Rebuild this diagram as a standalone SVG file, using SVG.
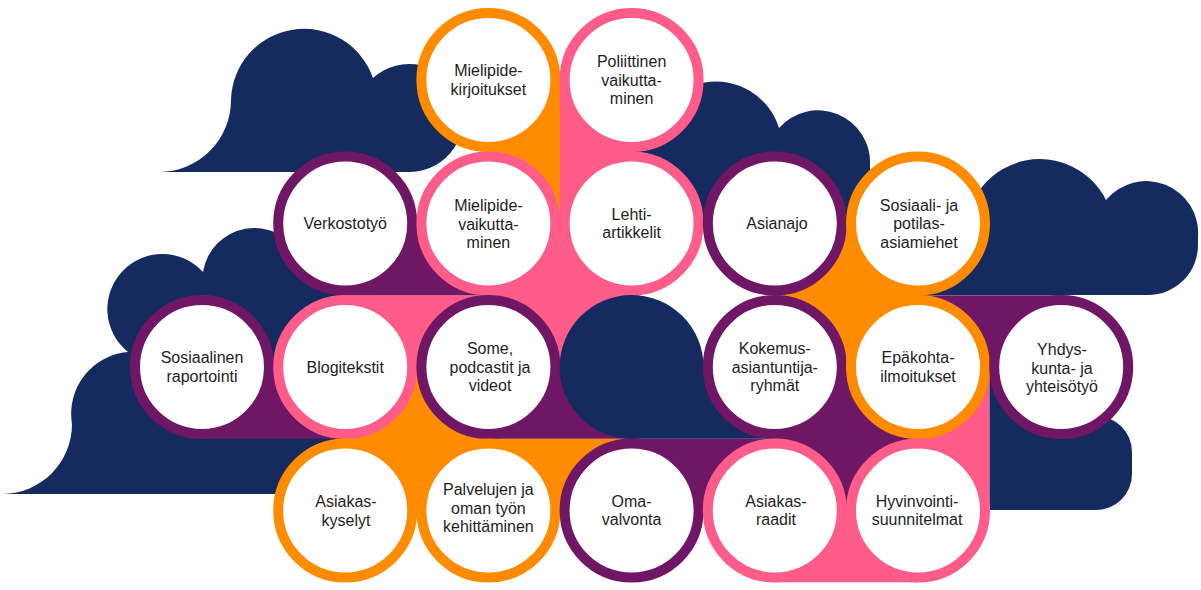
<svg xmlns="http://www.w3.org/2000/svg" width="1201" height="590" viewBox="0 0 1201 590">
  <style>
    .navy { fill: #152a5e; }
    .orange { fill: #ff8c00; }
    .pink { fill: #ff5c8a; }
    .purple { fill: #6f1764; }
    .ring { fill: #ffffff; stroke-width: 10; }
    .r-orange { stroke: #ff8c00; }
    .r-pink { stroke: #ff5c8a; }
    .r-purple { stroke: #6f1764; }
    .lbl { font-family: "Liberation Sans", Arial, sans-serif; font-size: 16px; fill: #1e1e1e; text-anchor: middle; }
  </style>
  <rect width="1201" height="590" fill="#ffffff"/>
  <g id="clouds" class="navy">
    <path d="M160,172 A72,72 0 0 0 231,100 A73,73 0 0 1 373,78 A54,54 0 1 1 410,172 Z"/>
    <path d="M634,224 L634,150 L650,150 A66,66 0 0 1 779,128 A52,52 0 0 1 870,165 L870,224 Z"/>
    <path d="M918,295 L918,228 L966,228 A74,74 0 0 1 1106,200 A52,52 0 0 1 1198,237 L1198,245 A50,50 0 0 1 1148,295 Z"/>
    <path d="M3,494 A70,70 0 0 0 72,424 A62,62 0 0 1 128,352 A55,55 0 1 1 203,272 A52,52 0 0 1 300,255 L345,222 L345,494 Z"/>
  </g>
  <g id="connectors">
    <rect class="orange" x="488.4" y="80" width="71.6" height="143.5"/>
    <rect class="orange" x="774.8" y="223.5" width="143.2" height="143.5"/>
    <rect class="orange" x="345.2" y="367" width="143.2" height="143.5"/>
    <rect class="orange" x="488.4" y="438.75" width="143.2" height="71.75"/>
    <rect class="pink" x="560" y="80" width="71.6" height="143.5"/>
    <rect class="pink" x="488.4" y="223.5" width="143.2" height="143.5"/>
    <rect class="pink" x="345.2" y="295.25" width="143.2" height="71.75"/>
    <rect class="pink" x="918" y="367" width="71.6" height="143.5"/>
    <rect class="pink" x="774.8" y="510.5" width="143.2" height="71.75"/>
    <rect class="purple" x="345.2" y="223.5" width="143.2" height="71.75"/>
    <rect class="purple" x="202" y="367" width="143.2" height="71.75"/>
    <rect class="purple" x="488.4" y="367" width="143.2" height="71.75"/>
    <rect class="purple" x="631.6" y="438.75" width="143.2" height="71.75"/>
    <rect class="purple" x="774.8" y="367" width="143.2" height="143.5"/>
    <rect class="purple" x="918" y="295.25" width="143.2" height="71.75"/>
    <rect class="navy" x="631.6" y="367" width="143.2" height="71.75"/>
    <path class="navy" d="M989.6,367 L1061,367 L1096,416 A36,36 0 0 1 1132,452 L1132,474 A36,36 0 0 1 1096,510 L989.6,510 Z"/>
  </g>
  <g id="n-mielipidekirjoitukset">
    <circle class="ring r-orange" cx="488.4" cy="80" r="67"/>
    <text class="lbl"><tspan x="488.4" y="76">Mielipide-</tspan><tspan x="488.4" y="94.5">kirjoitukset</tspan></text>
  </g>
  <g id="n-poliittinen">
    <circle class="ring r-pink" cx="631.6" cy="80" r="67"/>
    <text class="lbl"><tspan x="631.6" y="67">Poliittinen</tspan><tspan x="631.6" y="85.5">vaikutta-</tspan><tspan x="631.6" y="104">minen</tspan></text>
  </g>
  <g id="n-verkostotyo">
    <circle class="ring r-purple" cx="345.2" cy="223.5" r="67"/>
    <text class="lbl"><tspan x="345.2" y="229">Verkostotyö</tspan></text>
  </g>
  <g id="n-mielipidevaikuttaminen">
    <circle class="ring r-pink" cx="488.4" cy="223.5" r="67"/>
    <text class="lbl"><tspan x="488.4" y="211">Mielipide-</tspan><tspan x="488.4" y="229.5">vaikutta-</tspan><tspan x="488.4" y="248">minen</tspan></text>
  </g>
  <g id="n-lehtiartikkelit">
    <circle class="ring r-pink" cx="631.6" cy="223.5" r="67"/>
    <text class="lbl"><tspan x="631.6" y="219.5">Lehti-</tspan><tspan x="631.6" y="238">artikkelit</tspan></text>
  </g>
  <g id="n-asianajo">
    <circle class="ring r-purple" cx="774.8" cy="223.5" r="67"/>
    <text class="lbl"><tspan x="777" y="229">Asianajo</tspan></text>
  </g>
  <g id="n-asiamiehet">
    <circle class="ring r-orange" cx="918" cy="223.5" r="67"/>
    <text class="lbl"><tspan x="919" y="210.5">Sosiaali- ja</tspan><tspan x="919" y="229">potilas-</tspan><tspan x="919" y="247.5">asiamiehet</tspan></text>
  </g>
  <g id="n-sosiaalinenraportointi">
    <circle class="ring r-purple" cx="202" cy="367" r="67"/>
    <text class="lbl"><tspan x="202" y="363">Sosiaalinen</tspan><tspan x="202" y="381.5">raportointi</tspan></text>
  </g>
  <g id="n-blogitekstit">
    <circle class="ring r-pink" cx="345.2" cy="367" r="67"/>
    <text class="lbl"><tspan x="345.2" y="372.5">Blogitekstit</tspan></text>
  </g>
  <g id="n-some">
    <circle class="ring r-purple" cx="488.4" cy="367" r="67"/>
    <text class="lbl"><tspan x="490" y="354">Some,</tspan><tspan x="490" y="372.5">podcastit ja</tspan><tspan x="490" y="391">videot</tspan></text>
  </g>
  <g id="n-tyhja">
    <circle class="navy" cx="631.6" cy="367" r="72"/>
  </g>
  <g id="n-kokemus">
    <circle class="ring r-purple" cx="774.8" cy="367" r="67"/>
    <text class="lbl"><tspan x="774.8" y="354">Kokemus-</tspan><tspan x="774.8" y="372.5">asiantuntija-</tspan><tspan x="774.8" y="391">ryhmät</tspan></text>
  </g>
  <g id="n-epakohta">
    <circle class="ring r-orange" cx="918" cy="367" r="67"/>
    <text class="lbl"><tspan x="918" y="363">Epäkohta-</tspan><tspan x="918" y="381.5">ilmoitukset</tspan></text>
  </g>
  <g id="n-yhdyskunta">
    <circle class="ring r-purple" cx="1061.2" cy="367" r="67"/>
    <text class="lbl"><tspan x="1062" y="355">Yhdys-</tspan><tspan x="1062" y="373.5">kunta- ja</tspan><tspan x="1062" y="392">yhteisötyö</tspan></text>
  </g>
  <g id="n-asiakaskyselyt">
    <circle class="ring r-orange" cx="345.2" cy="510.5" r="67"/>
    <text class="lbl"><tspan x="346" y="507">Asiakas-</tspan><tspan x="346" y="525.5">kyselyt</tspan></text>
  </g>
  <g id="n-palvelujen">
    <circle class="ring r-orange" cx="488.4" cy="510.5" r="67"/>
    <text class="lbl"><tspan x="488.4" y="495">Palvelujen ja</tspan><tspan x="488.4" y="513.5">oman työn</tspan><tspan x="488.4" y="532">kehittäminen</tspan></text>
  </g>
  <g id="n-omavalvonta">
    <circle class="ring r-purple" cx="631.6" cy="510.5" r="67"/>
    <text class="lbl"><tspan x="631.6" y="506.5">Oma-</tspan><tspan x="631.6" y="525">valvonta</tspan></text>
  </g>
  <g id="n-asiakasraadit">
    <circle class="ring r-pink" cx="774.8" cy="510.5" r="67"/>
    <text class="lbl"><tspan x="776" y="506.5">Asiakas-</tspan><tspan x="776" y="525">raadit</tspan></text>
  </g>
  <g id="n-hyvinvointi">
    <circle class="ring r-pink" cx="918" cy="510.5" r="67"/>
    <text class="lbl"><tspan x="917" y="506.5">Hyvinvointi-</tspan><tspan x="917" y="525">suunnitelmat</tspan></text>
  </g>
</svg>
